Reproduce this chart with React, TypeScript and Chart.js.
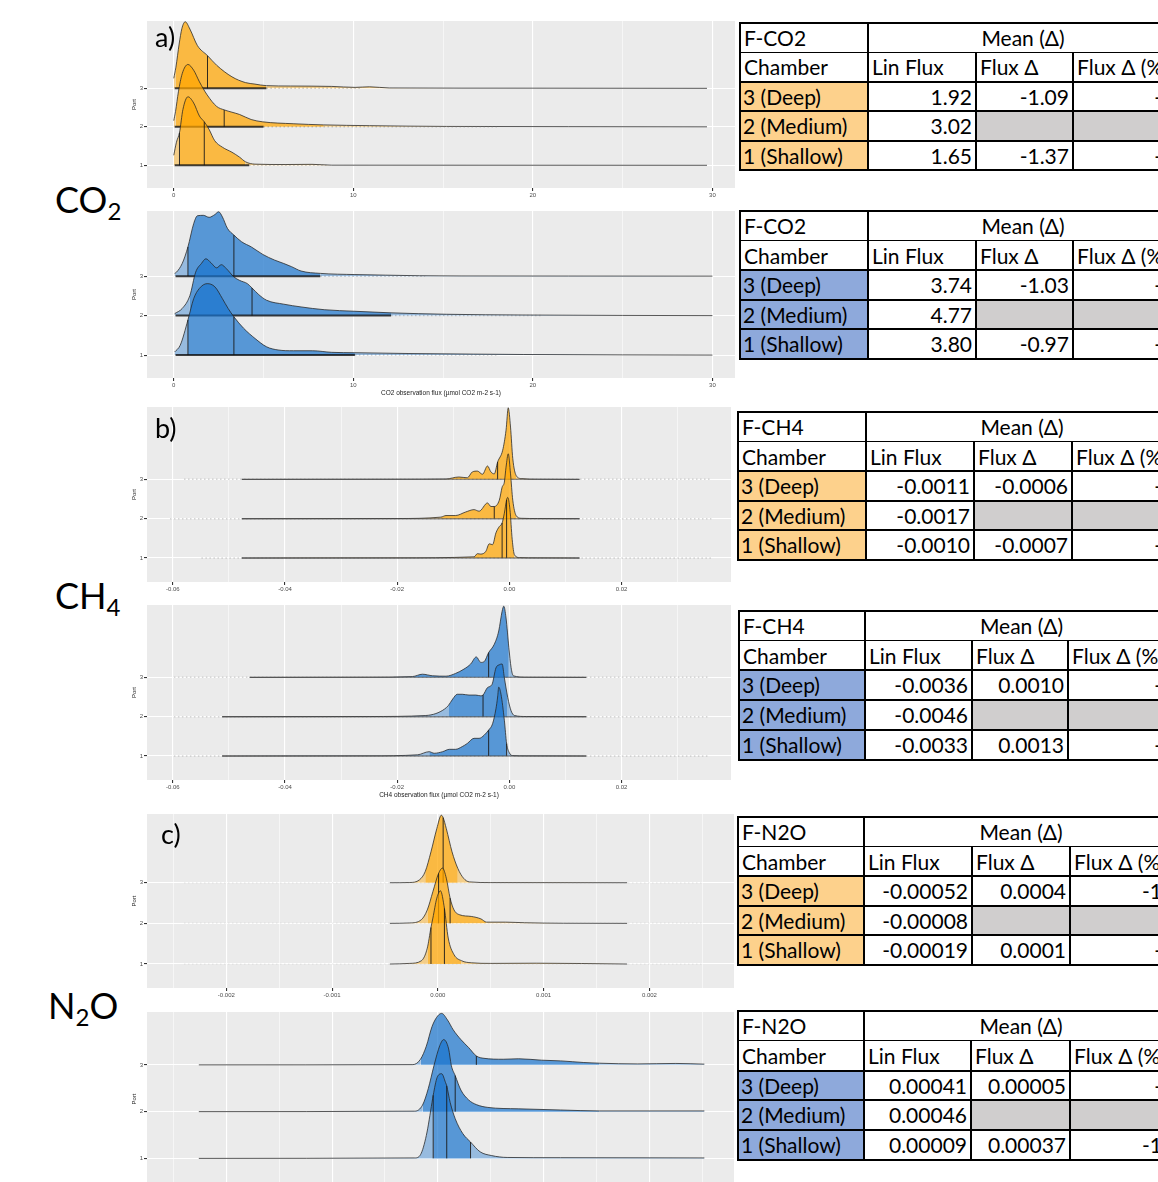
import React, { useEffect, useRef } from "react";
import { Chart, registerables } from "chart.js";

Chart.register(...registerables);
Chart.defaults.font.family = "'Liberation Sans', Arial, sans-serif";

// ---------------- axis ticks ----------------
const co2TickValues = [0, 10, 20, 30];
const co2TickLabels = ["0", "10", "20", "30"];
const co2MinorTicks = [5, 15, 25];
const ch4TickValues = [-0.06, -0.04, -0.02, 0, 0.02];
const ch4TickLabels = ["-0.06", "-0.04", "-0.02", "0.00", "0.02"];
const ch4MinorTicks = [-0.05, -0.03, -0.01, 0.01, 0.03];
const n2oTickValues = [-0.002, -0.001, 0, 0.001, 0.002];
const n2oTickLabels = ["-0.002", "-0.001", "0.000", "0.001", "0.002"];
const n2oMinorTicks = [-0.0025, -0.0015, -0.0005, 0.0005, 0.0015, 0.0025];
const portTicks = [1, 2, 3];
const portLabels = ["1", "2", "3"];

// ---------------- a) CO2, orange ----------------
const co2OrangeDeepX = [0, 0.12, 0.3, 0.45, 0.64, 0.9, 1.32, 1.88, 2.39, 3.24, 3.99, 4.52, 5.16, 6.5, 8.8, 10.1, 10.9, 12, 20, 29.7];
const co2OrangeDeepH = [0.26, 0.55, 1.15, 1.55, 1.73, 1.54, 1.11, 0.85, 0.6, 0.3, 0.15, 0.11, 0.07, 0.06, 0.05, 0.025, 0.04, 0.01, 0.004, 0];
const co2OrangeDeepBand = [0.12, 5.16];
const co2OrangeDeepLines = [1.88];
const co2OrangeDeepRug = [0.05, 5.16, 5.16, 10.5];

const co2OrangeMedX = [0, 0.1, 0.26, 0.47, 0.79, 1.11, 1.43, 1.86, 2.39, 2.81, 3.24, 3.67, 4.31, 4.95, 6.65, 8.36, 10.9, 15.2, 22, 29.7];
const co2OrangeMedH = [0.16, 0.4, 0.91, 1.38, 1.62, 1.47, 1.17, 0.83, 0.53, 0.44, 0.38, 0.32, 0.19, 0.13, 0.08, 0.05, 0.03, 0.01, 0.005, 0];
const co2OrangeMedBand = [0.1, 8.36];
const co2OrangeMedLines = [2.81];
const co2OrangeMedRug = [0.05, 5, 5, 18];

const co2OrangeShalX = [0, 0.15, 0.32, 0.51, 0.79, 1.11, 1.43, 1.7, 1.96, 2.28, 2.71, 3.24, 3.67, 4.0, 4.52, 6.2, 7.7, 8.8, 29.7];
const co2OrangeShalH = [0.26, 0.6, 0.85, 1.45, 1.78, 1.62, 1.28, 1.13, 0.94, 0.64, 0.47, 0.34, 0.21, 0.09, 0.03, 0.02, 0.025, 0.003, 0];
const co2OrangeShalBand = [0.32, 4.0];
const co2OrangeShalLines = [0.32, 1.7];
const co2OrangeShalRug = [0.05, 4.2, 4.2, 8.5];

// ---------------- CO2, blue ----------------
const co2BlueDeepX = [0.05, 0.15, 0.47, 0.79, 1.11, 1.32, 1.65, 1.97, 2.29, 2.5, 2.71, 2.99, 3.35, 3.78, 4.32, 4.96, 5.6, 6.13, 6.56, 7.09, 8.16, 10.09, 11.8, 13.7, 16, 22, 30];
const co2BlueDeepH = [0.07, 0.1, 0.32, 0.74, 1.33, 1.53, 1.54, 1.49, 1.56, 1.63, 1.5, 1.21, 1.04, 0.87, 0.74, 0.55, 0.41, 0.32, 0.24, 0.13, 0.07, 0.04, 0.025, 0.01, 0.004, 0.002, 0];
const co2BlueDeepBand = [0.79, 8.16];
const co2BlueDeepLines = [0.79, 3.35];
const co2BlueDeepRug = [0.1, 8.16, 8.16, 14];

const co2BlueMedX = [0.05, 0.47, 0.9, 1.22, 1.54, 1.79, 2.07, 2.39, 2.65, 2.93, 3.35, 3.68, 4.1, 4.36, 4.74, 5.17, 6.13, 7.09, 8.38, 10.09, 12.1, 15.2, 19.5, 25, 30];
const co2BlueMedH = [0.05, 0.18, 0.51, 1.1, 1.32, 1.44, 1.34, 1.21, 1.29, 1.19, 0.98, 0.89, 0.81, 0.7, 0.53, 0.39, 0.29, 0.22, 0.15, 0.11, 0.07, 0.034, 0.015, 0.005, 0];
const co2BlueMedBand = [0.9, 12.1];
const co2BlueMedLines = [4.36];
const co2BlueMedRug = [0.1, 12.1, 12.1, 20.5];

const co2BlueShalX = [0.05, 0.36, 0.79, 1.11, 1.43, 1.86, 2.29, 2.71, 3.03, 3.35, 3.89, 4.53, 5.17, 5.81, 6.67, 7.73, 8.8, 10.09, 13.1, 16.7, 19.5, 25, 30];
const co2BlueShalH = [0.08, 0.25, 0.89, 1.43, 1.69, 1.81, 1.73, 1.43, 1.18, 0.97, 0.68, 0.42, 0.21, 0.13, 0.11, 0.11, 0.07, 0.06, 0.04, 0.025, 0.015, 0.005, 0];
const co2BlueShalBand = [0.79, 10.09];
const co2BlueShalLines = [0.79, 3.35];
const co2BlueShalRug = [0.1, 10.09, 10.09, 18];

// ---------------- b) CH4, orange ----------------
const ch4OrangeDeepX = [-0.0477, -0.02, -0.0113, -0.009, -0.0075, -0.0066, -0.0057, -0.0048, -0.0039, -0.0033, -0.0027, -0.0021, -0.0012, -0.0006, -0.0002, 0.0002, 0.0006, 0.0012, 0.0021, 0.005, 0.0125];
const ch4OrangeDeepH = [0, 0.004, 0.01, 0.06, 0.04, 0.19, 0.21, 0.13, 0.34, 0.19, 0.14, 0.44, 0.74, 1.25, 1.82, 1.33, 0.53, 0.1, 0.02, 0.004, 0];
const ch4OrangeDeepBand = [-0.0113, 0.0012];
const ch4OrangeDeepLines = [-0.0021];
const ch4OrangeDeepRug = [-0.0477, 0.0125, -0.058, 0.036];

const ch4OrangeMedX = [-0.0477, -0.02, -0.0122, -0.0113, -0.0096, -0.0078, -0.0063, -0.0054, -0.0039, -0.0033, -0.0027, -0.0018, -0.0013, -0.0009, -0.0006, -0.0002, 0.0002, 0.0006, 0.0012, 0.0021, 0.005, 0.0125];
const ch4OrangeMedH = [0, 0.004, 0.04, 0.08, 0.08, 0.17, 0.23, 0.19, 0.4, 0.31, 0.31, 0.47, 0.8, 0.93, 1.31, 1.65, 1.14, 0.47, 0.08, 0.01, 0.004, 0];
const ch4OrangeMedBand = [-0.0122, 0.0012];
const ch4OrangeMedLines = [-0.0027];
const ch4OrangeMedRug = [-0.0477, 0.0125, -0.0605, 0.036];

const ch4OrangeShalX = [-0.0477, -0.02, -0.0063, -0.0057, -0.0051, -0.0042, -0.0036, -0.003, -0.0024, -0.0018, -0.0013, -0.0009, -0.0005, -0.0003, 0.0001, 0.0005, 0.0009, 0.0018, 0.005, 0.0125];
const ch4OrangeShalH = [0, 0.004, 0.03, 0.11, 0.1, 0.17, 0.36, 0.34, 0.64, 0.8, 0.89, 1.14, 1.48, 1.54, 1.23, 0.47, 0.08, 0.01, 0.004, 0];
const ch4OrangeShalBand = [-0.0063, 0.0009];
const ch4OrangeShalLines = [-0.0013, -0.0005];
const ch4OrangeShalRug = [-0.0477, 0.0125, -0.0549, 0.036];

// ---------------- CH4, blue ----------------
const ch4BlueDeepX = [-0.0463, -0.025, -0.0173, -0.0155, -0.0137, -0.0113, -0.0096, -0.0081, -0.0069, -0.0059, -0.0051, -0.0045, -0.0037, -0.0027, -0.0019, -0.0013, -0.001, -0.0006, -0.0001, 0.0003, 0.0007, 0.003, 0.0137];
const ch4BlueDeepH = [0, 0.004, 0.02, 0.08, 0.04, 0.03, 0.1, 0.21, 0.34, 0.52, 0.38, 0.4, 0.63, 0.84, 1.18, 1.68, 1.81, 1.51, 0.76, 0.25, 0.04, 0.004, 0];
const ch4BlueDeepBand = [-0.0173, -0.0001];
const ch4BlueDeepLines = [-0.0037];
const ch4BlueDeepRug = [-0.0463, 0.0137, -0.0598, 0.0354];

const ch4BlueMedX = [-0.0512, -0.025, -0.0149, -0.0131, -0.0116, -0.0109, -0.0101, -0.0093, -0.0084, -0.0072, -0.006, -0.0051, -0.0047, -0.0039, -0.0031, -0.0024, -0.0018, -0.0013, -0.0009, -0.0003, 0.0003, 0.0009, 0.003, 0.0137];
const ch4BlueMedH = [0, 0.004, 0.03, 0.08, 0.19, 0.28, 0.45, 0.57, 0.57, 0.55, 0.55, 0.53, 0.55, 0.74, 0.82, 1.24, 1.32, 1.34, 0.99, 0.49, 0.15, 0.03, 0.004, 0];
const ch4BlueMedBand = [-0.0109, -0.0003];
const ch4BlueMedLines = [-0.0047];
const ch4BlueMedRug = [-0.0512, 0.0137, -0.0598, 0.0354];

const ch4BlueShalX = [-0.0512, -0.025, -0.0164, -0.0143, -0.0134, -0.0119, -0.0107, -0.0096, -0.0084, -0.0075, -0.0063, -0.0054, -0.0045, -0.0037, -0.003, -0.0024, -0.0021, -0.0019, -0.0015, -0.0009, -0.0005, 0, 0.0006, 0.003, 0.0137];
const ch4BlueShalH = [0, 0.004, 0.03, 0.11, 0.07, 0.11, 0.17, 0.17, 0.24, 0.32, 0.45, 0.45, 0.53, 0.66, 0.82, 1.2, 1.5, 1.75, 1.57, 0.91, 0.32, 0.08, 0.01, 0.004, 0];
const ch4BlueShalBand = [-0.0143, -0.0005];
const ch4BlueShalLines = [-0.0037, -0.0005];
const ch4BlueShalRug = [-0.0512, 0.0137, -0.0598, 0.0354];

// ---------------- c) N2O, orange ----------------
const n2oOrangeDeepX = [-0.000454, -0.000265, -0.000174, -0.00012, -0.000065, -0.00001, 0.000033, 0.00005, 0.00008, 0.000134, 0.000189, 0.000243, 0.000298, 0.0005, 0.00179];
const n2oOrangeDeepH = [0, 0.005, 0.07, 0.27, 0.76, 1.33, 1.66, 1.6, 1.33, 0.76, 0.35, 0.11, 0.02, 0.003, 0];
const n2oOrangeDeepBand = [-0.00012, 0.000189];
const n2oOrangeDeepLines = [0.00005];
const n2oOrangeDeepRug = [-0.000454, -0.000454, -0.0024, 0.0025];

const n2oOrangeMedX = [-0.000454, -0.000265, -0.000156, -0.0001, -0.000047, 0.000007, 0.000044, 0.00008, 0.000116, 0.000153, 0.000207, 0.000316, 0.000407, 0.000461, 0.00064, 0.00082, 0.00119, 0.00179];
const n2oOrangeMedH = [0, 0.01, 0.09, 0.33, 0.78, 1.23, 1.36, 1.11, 0.62, 0.33, 0.21, 0.17, 0.11, 0.03, 0.03, 0.015, 0.002, 0];
const n2oOrangeMedBand = [-0.0001, 0.000461];
const n2oOrangeMedLines = [0.000007, 0.000116];
const n2oOrangeMedRug = [-0.000454, -0.000454, -0.0024, 0.0025];

const n2oOrangeShalX = [-0.000454, -0.000265, -0.000156, -0.0001, -0.000065, -0.000047, -0.00001, 0.000025, 0.000062, 0.000098, 0.000153, 0.000225, 0.000316, 0.0005, 0.00093, 0.00179];
const n2oOrangeShalH = [0, 0.015, 0.08, 0.39, 0.9, 1.13, 1.62, 1.8, 1.37, 0.64, 0.23, 0.08, 0.03, 0.015, 0.02, 0];
const n2oOrangeShalBand = [-0.0001, 0.000225];
const n2oOrangeShalLines = [-0.000065, 0.000062];
const n2oOrangeShalRug = [-0.000454, -0.000454, -0.0024, 0.0025];

// ---------------- N2O, blue ----------------
const n2oBlueDeepX = [-0.00226, -0.000236, -0.000164, -0.000109, -0.000055, 0, 0.000036, 0.000091, 0.000145, 0.000218, 0.000291, 0.000364, 0.000436, 0.000618, 0.000764, 0.00098, 0.00116, 0.00138, 0.00153, 0.00189, 0.00225, 0.00252];
const n2oBlueDeepH = [0, 0.005, 0.12, 0.4, 0.82, 1.05, 1.1, 0.96, 0.75, 0.54, 0.37, 0.19, 0.14, 0.12, 0.13, 0.1, 0.085, 0.05, 0.035, 0.02, 0.03, 0.015];
const n2oBlueDeepBand = [-0.000164, 0.00153];
const n2oBlueDeepLines = [0.000364];

const n2oBlueMedX = [-0.00226, -0.000218, -0.000145, -0.000091, -0.000036, 0.000018, 0.000055, 0.000102, 0.000127, 0.000164, 0.000218, 0.000291, 0.000364, 0.000473, 0.00076, 0.00116, 0.00153, 0.00252];
const n2oBlueMedH = [0, 0.01, 0.14, 0.49, 0.99, 1.41, 1.54, 1.34, 0.99, 0.77, 0.46, 0.25, 0.15, 0.09, 0.06, 0.035, 0.015, 0.015];
const n2oBlueMedBand = [-0.000145, 0.00153];
const n2oBlueMedLines = [0.000164];

const n2oBlueShalX = [-0.00226, -0.000218, -0.000164, -0.000109, -0.000055, -0.000044, -0.000007, 0.000036, 0.000073, 0.000084, 0.000116, 0.000164, 0.000236, 0.000309, 0.0004, 0.000509, 0.000655, 0.00116, 0.00252];
const n2oBlueShalH = [0, 0.01, 0.08, 0.49, 1.2, 1.35, 1.73, 1.81, 1.62, 1.55, 1.2, 0.85, 0.53, 0.35, 0.14, 0.06, 0.02, 0.015, 0.01];
const n2oBlueShalBand = [-0.000044, 0.000309];
const n2oBlueShalLines = [-0.000044, 0.000084, 0.000309];

// ---------------- tables ----------------
const chamberNames = ["3 (Deep)", "2 (Medium)", "1 (Shallow)"];
const co2OrangeLinFlux = ["1.92", "3.02", "1.65"];
const co2OrangeFluxDelta = ["-1.09", "", "-1.37"];
const co2OrangePct = ["-", "", "-"];
const co2BlueLinFlux = ["3.74", "4.77", "3.80"];
const co2BlueFluxDelta = ["-1.03", "", "-0.97"];
const co2BluePct = ["-", "", "-"];
const ch4OrangeLinFlux = ["-0.0011", "-0.0017", "-0.0010"];
const ch4OrangeFluxDelta = ["-0.0006", "", "-0.0007"];
const ch4OrangePct = ["-", "", "-"];
const ch4BlueLinFlux = ["-0.0036", "-0.0046", "-0.0033"];
const ch4BlueFluxDelta = ["0.0010", "", "0.0013"];
const ch4BluePct = ["-", "", "-"];
const n2oOrangeLinFlux = ["-0.00052", "-0.00008", "-0.00019"];
const n2oOrangeFluxDelta = ["0.0004", "", "0.0001"];
const n2oOrangePct = ["-1", "", "-"];
const n2oBlueLinFlux = ["0.00041", "0.00046", "0.00009"];
const n2oBlueFluxDelta = ["0.00005", "", "0.00037"];
const n2oBluePct = ["-", "", "-1"];

// ---------------- styles ----------------
const ORANGE_MAIN = "rgba(255,165,0,0.72)";
const ORANGE_LIGHT = "rgba(255,165,0,0.42)";
const BLUE_MAIN = "rgba(24,116,205,0.70)";
const BLUE_LIGHT = "rgba(24,116,205,0.40)";
const TABLE_ORANGE = "#FDD18C";
const TABLE_BLUE = "#8EA9DB";
const TEXT_FONT = "Lato, 'Open Sans', sans-serif";

const bgPlugin = {
  id: "panelBg",
  beforeDraw(chart: any) {
    const { ctx, chartArea } = chart;
    ctx.save();
    ctx.fillStyle = "#EBEBEB";
    ctx.fillRect(chartArea.left, chartArea.top, chartArea.right - chartArea.left, chartArea.bottom - chartArea.top);
    ctx.restore();
  },
};

function mk(base: number, xs: number[], hs: number[], band: number[], lines: number[], rug: number[]) {
  return { base, xs, hs, band, lines, rug };
}

function RidgePanel(props: any) {
  const { top, bottom, right, xMin, xMax, yMin, yMax, majors, minors, majorLabels, title, ridges, main, light, rugDense, rugSparse } = props;
  const AREA_LEFT = 147;
  const YW = 16;
  const XH = title ? 19 : 20;
  const left = AREA_LEFT - YW;
  const width = right - left;
  const height = bottom - top + XH;
  const ref = useRef<HTMLCanvasElement>(null);

  useEffect(() => {
    const isMajor = (v: number) => majors.some((m: number) => Math.abs(m - v) < 1e-9);
    const labelOf = (v: number) => {
      const i = majors.findIndex((m: number) => Math.abs(m - v) < 1e-9);
      return i >= 0 ? majorLabels[i] : "";
    };
    const allTicks = [...majors, ...minors].sort((a, b) => a - b);
    const datasets: any[] = [];
    for (const r of ridges) {
      const b = r.base;
      datasets.push({
        data: r.xs.map((x: number, i: number) => ({ x, y: b + r.hs[i] })),
        borderColor: "rgba(35,35,35,0.85)",
        borderWidth: 0.9,
        pointRadius: 0,
        cubicInterpolationMode: "monotone",
        fill: { value: b },
        backgroundColor: main,
        segment: {
          backgroundColor: (c: any) => {
            const x0 = r.xs[c.p0DataIndex];
            const x1 = r.xs[c.p1DataIndex];
            return x0 >= r.band[0] - 1e-12 && x1 <= r.band[1] + 1e-12 ? main : light;
          },
        },
        order: b * 10 + 3,
      });
      for (const q of r.lines) {
        const i = r.xs.indexOf(q);
        datasets.push({
          data: [{ x: q, y: b }, { x: q, y: b + r.hs[i] }],
          borderColor: "rgba(25,25,25,0.9)",
          borderWidth: 1,
          pointRadius: 0,
          fill: false,
          order: b * 10 + 2,
        });
      }
      if (r.rug.length === 4) {
        datasets.push({
          data: [{ x: r.rug[2], y: b }, { x: r.rug[3], y: b }],
          borderColor: rugSparse,
          borderWidth: 1.5,
          borderDash: [1.5, 2.5],
          pointRadius: 0,
          fill: false,
          order: b * 10 + 1,
        });
        datasets.push({
          data: [{ x: r.rug[0], y: b }, { x: r.rug[1], y: b }],
          borderColor: rugDense.color,
          borderWidth: rugDense.width,
          pointRadius: 0,
          fill: false,
          order: b * 10,
        });
      }
    }
    const chart = new Chart(ref.current as HTMLCanvasElement, {
      type: "line",
      data: { datasets },
      plugins: [bgPlugin],
      options: {
        responsive: false,
        animation: false,
        devicePixelRatio: 1,
        events: [],
        layout: { padding: 0 },
        plugins: { legend: { display: false }, tooltip: { enabled: false } },
        scales: {
          x: {
            type: "linear",
            min: xMin,
            max: xMax,
            afterBuildTicks: (s: any) => {
              s.ticks = allTicks.map((v) => ({ value: v }));
            },
            afterFit: (s: any) => {
              s.height = XH;
              s.paddingLeft = 0;
              s.paddingRight = 0;
            },
            ticks: {
              autoSkip: false,
              maxRotation: 0,
              minRotation: 0,
              padding: 1,
              color: "#4D4D4D",
              font: { size: 6 },
              callback: (v: any) => labelOf(Number(v)),
            },
            grid: {
              color: "#FFFFFF",
              lineWidth: (c: any) => (c.tick && isMajor(c.tick.value) ? 1.1 : 0.55),
              tickLength: 3,
              tickColor: (c: any) => (c.tick && isMajor(c.tick.value) ? "#333333" : "rgba(0,0,0,0)"),
            },
            border: { display: false },
            title: title
              ? { display: true, text: title, color: "#222", font: { size: 6.5 }, padding: { top: 1, bottom: 0 } }
              : { display: false },
          },
          y: {
            type: "linear",
            min: yMin,
            max: yMax,
            afterBuildTicks: (s: any) => {
              s.ticks = portTicks.map((v) => ({ value: v }));
            },
            afterFit: (s: any) => {
              s.width = YW;
              s.paddingTop = 0;
              s.paddingBottom = 0;
            },
            ticks: {
              padding: 1,
              color: "#4D4D4D",
              font: { size: 6 },
              callback: (v: any) => {
                const i = portTicks.indexOf(Number(v));
                return i >= 0 ? portLabels[i] : "";
              },
            },
            grid: { color: "#FFFFFF", lineWidth: 1.1, tickLength: 3, tickColor: "#333333" },
            border: { display: false },
            title: { display: true, text: "Port", color: "#222", font: { size: 6 }, padding: { top: 0, bottom: 1 } },
          },
        },
      } as any,
    });
    return () => chart.destroy();
  }, []);

  return (
    <canvas
      ref={ref}
      width={width}
      height={height}
      style={{ position: "absolute", left, top, width, height }}
    />
  );
}

function DataTable(props: any) {
  const { left, top, cols, rowH, title, fill, linFlux, fluxDelta, pct } = props;
  const R = 1178;
  const x = [left, ...cols, R];
  const y = [0, 1, 2, 3, 4, 5].map((i) => top + i * rowH);
  const els: any[] = [];
  const cell = (key: string, l: number, t: number, w: number, text: string, align: string, pad = 4) =>
    els.push(
      <div
        key={key}
        style={{
          position: "absolute",
          left: l,
          top: t,
          width: w,
          height: rowH,
          lineHeight: rowH + "px",
          textAlign: align as any,
          whiteSpace: "nowrap",
          padding: `0 ${pad}px`,
          boxSizing: "border-box",
        }}
      >
        {text}
      </div>
    );
  for (let i = 0; i < 3; i++) {
    els.push(
      <div key={"f" + i} style={{ position: "absolute", left: x[0], top: y[2 + i], width: x[1] - x[0], height: rowH, background: fill }} />
    );
  }
  els.push(
    <div key="grey" style={{ position: "absolute", left: x[2], top: y[3], width: R - x[2], height: rowH, background: "#D0CECE" }} />
  );
  cell("t0", x[0], y[0], x[1] - x[0], title, "left");
  cell("t1", x[1], y[0], R - x[1], "Mean (Δ)", "center");
  cell("h0", x[0], y[1], x[1] - x[0], "Chamber", "left");
  cell("h1", x[1], y[1], x[2] - x[1], "Lin Flux", "left");
  cell("h2", x[2], y[1], x[3] - x[2], "Flux Δ", "left");
  cell("h3", x[3], y[1], R - x[3], "Flux Δ (%)", "left");
  for (let i = 0; i < 3; i++) {
    cell("c" + i, x[0], y[2 + i], x[1] - x[0], chamberNames[i], "left", 3);
    cell("l" + i, x[1], y[2 + i], x[2] - x[1], linFlux[i], "right");
    if (fluxDelta[i]) cell("d" + i, x[2], y[2 + i], x[3] - x[2], fluxDelta[i], "right");
    if (pct[i]) cell("p" + i, x[3], y[2 + i], 1162 - x[3], pct[i], "right", 0);
  }
  const hw = [2, 1, 2, 2, 2, 2];
  hw.forEach((t, i) =>
    els.push(
      <div key={"hl" + i} style={{ position: "absolute", left: x[0] - 1, top: y[i] - t / 2, width: R - x[0], height: t, background: "#000" }} />
    )
  );
  els.push(<div key="v0" style={{ position: "absolute", left: x[0] - 1, top: y[0] - 1, width: 2, height: y[5] - y[0] + 2, background: "#000" }} />);
  els.push(<div key="v1" style={{ position: "absolute", left: x[1] - 1, top: y[0] - 1, width: 2, height: y[5] - y[0] + 2, background: "#000" }} />);
  els.push(<div key="v2" style={{ position: "absolute", left: x[2] - 0.75, top: y[1], width: 1.5, height: y[5] - y[1], background: "#000" }} />);
  els.push(<div key="v3" style={{ position: "absolute", left: x[3] - 0.75, top: y[1], width: 1.5, height: y[5] - y[1], background: "#000" }} />);
  return <>{els}</>;
}

function BigLabel(props: any) {
  const { left, top, parts } = props;
  return (
    <div style={{ position: "absolute", left, top, fontFamily: TEXT_FONT, fontSize: 36, lineHeight: 1, whiteSpace: "nowrap", color: "#000" }}>
      {parts.map((p: any, i: number) =>
        p.sub ? (
          <span key={i} style={{ fontSize: 24, position: "relative", top: 7 }}>
            {p.t}
          </span>
        ) : (
          <span key={i}>{p.t}</span>
        )
      )}
    </div>
  );
}

function PanelLetter(props: any) {
  return (
    <div style={{ position: "absolute", left: props.left, top: props.top, fontFamily: TEXT_FONT, fontSize: 27, lineHeight: 1, color: "#000", zIndex: 2 }}>
      {props.text}
    </div>
  );
}

export default function App() {
  const co2Orange = [
    mk(3, co2OrangeDeepX, co2OrangeDeepH, co2OrangeDeepBand, co2OrangeDeepLines, co2OrangeDeepRug),
    mk(2, co2OrangeMedX, co2OrangeMedH, co2OrangeMedBand, co2OrangeMedLines, co2OrangeMedRug),
    mk(1, co2OrangeShalX, co2OrangeShalH, co2OrangeShalBand, co2OrangeShalLines, co2OrangeShalRug),
  ];
  const co2Blue = [
    mk(3, co2BlueDeepX, co2BlueDeepH, co2BlueDeepBand, co2BlueDeepLines, co2BlueDeepRug),
    mk(2, co2BlueMedX, co2BlueMedH, co2BlueMedBand, co2BlueMedLines, co2BlueMedRug),
    mk(1, co2BlueShalX, co2BlueShalH, co2BlueShalBand, co2BlueShalLines, co2BlueShalRug),
  ];
  const ch4Orange = [
    mk(3, ch4OrangeDeepX, ch4OrangeDeepH, ch4OrangeDeepBand, ch4OrangeDeepLines, ch4OrangeDeepRug),
    mk(2, ch4OrangeMedX, ch4OrangeMedH, ch4OrangeMedBand, ch4OrangeMedLines, ch4OrangeMedRug),
    mk(1, ch4OrangeShalX, ch4OrangeShalH, ch4OrangeShalBand, ch4OrangeShalLines, ch4OrangeShalRug),
  ];
  const ch4Blue = [
    mk(3, ch4BlueDeepX, ch4BlueDeepH, ch4BlueDeepBand, ch4BlueDeepLines, ch4BlueDeepRug),
    mk(2, ch4BlueMedX, ch4BlueMedH, ch4BlueMedBand, ch4BlueMedLines, ch4BlueMedRug),
    mk(1, ch4BlueShalX, ch4BlueShalH, ch4BlueShalBand, ch4BlueShalLines, ch4BlueShalRug),
  ];
  const n2oOrange = [
    mk(3, n2oOrangeDeepX, n2oOrangeDeepH, n2oOrangeDeepBand, n2oOrangeDeepLines, n2oOrangeDeepRug),
    mk(2, n2oOrangeMedX, n2oOrangeMedH, n2oOrangeMedBand, n2oOrangeMedLines, n2oOrangeMedRug),
    mk(1, n2oOrangeShalX, n2oOrangeShalH, n2oOrangeShalBand, n2oOrangeShalLines, n2oOrangeShalRug),
  ];
  const n2oBlue = [
    mk(3, n2oBlueDeepX, n2oBlueDeepH, n2oBlueDeepBand, n2oBlueDeepLines, []),
    mk(2, n2oBlueMedX, n2oBlueMedH, n2oBlueMedBand, n2oBlueMedLines, []),
    mk(1, n2oBlueShalX, n2oBlueShalH, n2oBlueShalBand, n2oBlueShalLines, []),
  ];

  const co2Rug = { color: "rgba(15,15,15,0.8)", width: 2 };
  const ch4Rug = { color: "rgba(60,60,60,0.55)", width: 1.4 };
  const co2Sparse = "rgba(110,110,110,0.35)";
  const ch4Sparse = "rgba(120,120,120,0.3)";
  const n2oSparse = "rgba(150,150,150,0.15)";

  return (
    <div
      style={{
        position: "absolute",
        left: 0,
        top: 0,
        width: 1158,
        height: 1182,
        overflow: "hidden",
        background: "#FFFFFF",
        fontFamily: TEXT_FONT,
        fontSize: 21,
        color: "#000",
      }}
    >
      <RidgePanel top={21} bottom={188} right={735} xMin={-1.49} xMax={31.26} yMin={0.41} yMax={4.75}
        majors={co2TickValues} minors={co2MinorTicks} majorLabels={co2TickLabels} ridges={co2Orange} main={ORANGE_MAIN} light={ORANGE_LIGHT}
        rugDense={co2Rug} rugSparse={co2Sparse} />
      <RidgePanel top={211} bottom={378} right={735} xMin={-1.49} xMax={31.26} yMin={0.42} yMax={4.65}
        majors={co2TickValues} minors={co2MinorTicks} majorLabels={co2TickLabels} ridges={co2Blue} main={BLUE_MAIN} light={BLUE_LIGHT}
        rugDense={co2Rug} rugSparse={co2Sparse}
        title="CO2 observation flux (µmol CO2 m-2 s-1)" />
      <RidgePanel top={407} bottom={582} right={731} xMin={-0.0646} xMax={0.0395} yMin={0.39} yMax={4.84}
        majors={ch4TickValues} minors={ch4MinorTicks} majorLabels={ch4TickLabels} ridges={ch4Orange} main={ORANGE_MAIN} light={ORANGE_LIGHT}
        rugDense={ch4Rug} rugSparse={ch4Sparse} />
      <RidgePanel top={605} bottom={780} right={731} xMin={-0.0646} xMax={0.0395} yMin={0.39} yMax={4.84}
        majors={ch4TickValues} minors={ch4MinorTicks} majorLabels={ch4TickLabels} ridges={ch4Blue} main={BLUE_MAIN} light={BLUE_LIGHT}
        rugDense={ch4Rug} rugSparse={ch4Sparse}
        title="CH4 observation flux (µmol CO2 m-2 s-1)" />
      <RidgePanel top={814} bottom={988} right={734} xMin={-0.00275} xMax={0.0028} yMin={0.41} yMax={4.69}
        majors={n2oTickValues} minors={n2oMinorTicks} majorLabels={n2oTickLabels} ridges={n2oOrange} main={ORANGE_MAIN} light={ORANGE_LIGHT}
        rugDense={ch4Rug} rugSparse={n2oSparse} />
      <RidgePanel top={1012} bottom={1186} right={734} xMin={-0.00275} xMax={0.0028} yMin={0.41} yMax={4.13}
        majors={n2oTickValues} minors={n2oMinorTicks} majorLabels={n2oTickLabels} ridges={n2oBlue} main={BLUE_MAIN} light={BLUE_LIGHT}
        rugDense={ch4Rug} rugSparse={n2oSparse} />

      <PanelLetter left={155} top={23} text="a)" />
      <PanelLetter left={155} top={414} text="b)" />
      <PanelLetter left={161} top={820} text="c)" />

      <BigLabel left={55} top={181} parts={[{ t: "CO" }, { t: "2", sub: true }]} />
      <BigLabel left={55} top={577} parts={[{ t: "CH" }, { t: "4", sub: true }]} />
      <BigLabel left={48} top={987} parts={[{ t: "N" }, { t: "2", sub: true }, { t: "O" }]} />

      <DataTable left={740} top={23} cols={[868, 976, 1073]} rowH={29.4} title="F-CO2" fill={TABLE_ORANGE}
        linFlux={co2OrangeLinFlux} fluxDelta={co2OrangeFluxDelta} pct={co2OrangePct} />
      <DataTable left={740} top={211} cols={[868, 976, 1073]} rowH={29.5} title="F-CO2" fill={TABLE_BLUE}
        linFlux={co2BlueLinFlux} fluxDelta={co2BlueFluxDelta} pct={co2BluePct} />
      <DataTable left={738} top={412} cols={[866, 974, 1072]} rowH={29.6} title="F-CH4" fill={TABLE_ORANGE}
        linFlux={ch4OrangeLinFlux} fluxDelta={ch4OrangeFluxDelta} pct={ch4OrangePct} />
      <DataTable left={739} top={611} cols={[865, 972, 1068]} rowH={29.7} title="F-CH4" fill={TABLE_BLUE}
        linFlux={ch4BlueLinFlux} fluxDelta={ch4BlueFluxDelta} pct={ch4BluePct} />
      <DataTable left={738} top={817} cols={[864, 972, 1070]} rowH={29.6} title="F-N2O" fill={TABLE_ORANGE}
        linFlux={n2oOrangeLinFlux} fluxDelta={n2oOrangeFluxDelta} pct={n2oOrangePct} />
      <DataTable left={738} top={1011} cols={[864, 971, 1070]} rowH={29.8} title="F-N2O" fill={TABLE_BLUE}
        linFlux={n2oBlueLinFlux} fluxDelta={n2oBlueFluxDelta} pct={n2oBluePct} />
    </div>
  );
}
